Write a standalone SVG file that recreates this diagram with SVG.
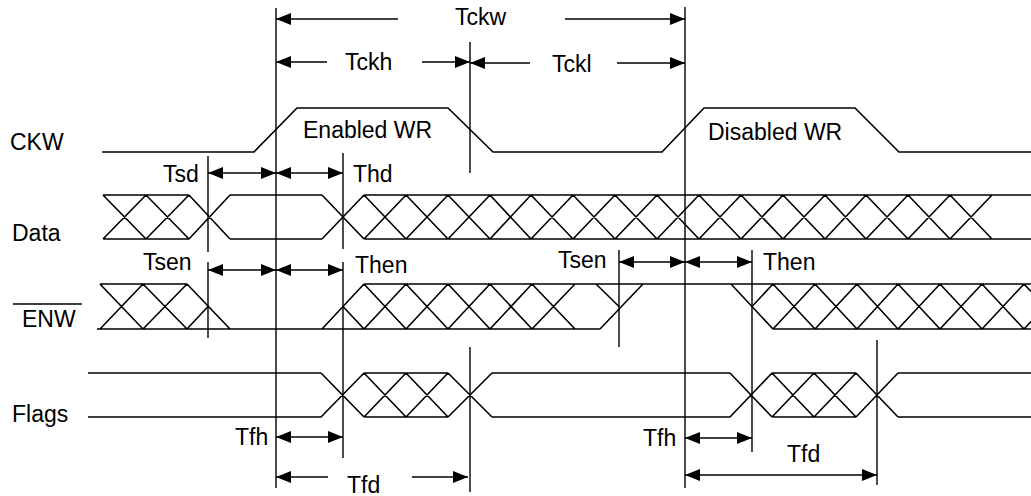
<svg xmlns="http://www.w3.org/2000/svg" width="1031" height="496" viewBox="0 0 1031 496">
<style>
text{font-family:"Liberation Sans",Arial,sans-serif;font-size:23px;fill:#000}
.sig{fill:none;stroke:#000;stroke-width:1.6;stroke-linejoin:miter}
.ref{fill:none;stroke:#000;stroke-width:1.4}
.dim{fill:none;stroke:#000;stroke-width:1.5}
.both{marker-start:url(#ah);marker-end:url(#ah)}
.end{marker-end:url(#ah)}
.start{marker-start:url(#ah)}
</style>
<defs>
<marker id="ah" markerUnits="userSpaceOnUse" markerWidth="16" markerHeight="12" refX="15" refY="6" orient="auto-start-reverse">
<path d="M0,0 L15,6 L0,12 z" fill="#000"/>
</marker>
</defs>
<rect width="1031" height="496" fill="#fff"/>

<g id="labels">
<text x="10" y="150">CKW</text>
<text x="12" y="241">Data</text>
<line x1="13" y1="304" x2="82" y2="304" stroke="#000" stroke-width="1.4"/>
<text x="22" y="327">ENW</text>
<text x="12" y="422">Flags</text>
</g>

<g id="ckw">
<polyline class="sig" points="102,152 254,152 297,108 448,108 493,152 662,152 704,108 855,108 899,152 1031,152"/>
<text x="303" y="138">Enabled WR</text>
<text x="708" y="140">Disabled WR</text>
</g>

<g id="data">
<path class="sig" d="M103,195 H189 M103,239 H189
M103,195 L146,239 M103,239 L146,195 M146,195 L189,239 M146,239 L189,195
M189,195 L230,239 M189,239 L230,195
M230,195 H322 M230,239 H322
M322,195 L364,239 M322,239 L364,195
M364,195 H1031 M364,239 H1031
M364,195 L406,239 M364,239 L406,195
M406,195 L448,239 M406,239 L448,195
M448,195 L490,239 M448,239 L490,195
M490,195 L531,239 M490,239 L531,195
M531,195 L573,239 M531,239 L573,195
M573,195 L615,239 M573,239 L615,195
M615,195 L657,239 M615,239 L657,195
M657,195 L699,239 M657,239 L699,195
M699,195 L741,239 M699,239 L741,195
M741,195 L783,239 M741,239 L783,195
M783,195 L825,239 M783,239 L825,195
M825,195 L866,239 M825,239 L866,195
M866,195 L908,239 M866,239 L908,195
M908,195 L950,239 M908,239 L950,195
M950,195 L992,239 M950,239 L992,195"/>
</g>

<g id="enw">
<path class="sig" d="M100,284 H187 M97,329 H600
M100,284 L143,329 M100,329 L143,284 M143,284 L187,329 M143,329 L187,284
M187,284 L230,329 M187,329 L208,306.5
M322,329 L364,284 M343,306.5 L364,329
M364,284 H1031
M364,284 L406,329 M364,329 L406,284
M406,284 L448,329 M406,329 L448,284
M448,284 L490,329 M448,329 L490,284
M490,284 L532,329 M490,329 L532,284
M532,284 L575,329 M532,329 L575,284
M596,284 L619,306.5 M600,329 L643,284
M731,284 L773,329 M752,306.5 L773,284
M773,329 H1031
M773,284 L815,329 M773,329 L815,284
M815,284 L857,329 M815,329 L857,284
M857,284 L898,329 M857,329 L898,284
M898,284 L940,329 M898,329 L940,284
M940,284 L982,329 M940,329 L982,284
M982,284 L1024,329 M982,329 L1024,284
M1024,284 L1031,291.5 M1024,329 L1031,321.5"/>
</g>

<g id="flags">
<path class="sig" d="M88,373 H321 M88,417 H321
M321,373 L364,417 M321,417 L364,373
M364,373 H448 M364,417 H448
M364,373 L406,417 M364,417 L406,373
M406,373 L448,417 M406,417 L448,373
M448,373 L492,417 M448,417 L492,373
M492,373 H730 M492,417 H730
M730,373 L772,417 M730,417 L772,373
M772,373 H856 M772,417 H856
M772,373 L814,417 M772,417 L814,373
M814,373 L856,417 M814,417 L856,373
M856,373 L898,417 M856,417 L898,373
M898,373 H1031 M898,417 H1031"/>
</g>

<g id="connectors">
<line class="ref" x1="276" y1="8" x2="276" y2="488"/>
<line class="ref" x1="685" y1="7" x2="685" y2="488"/>
<line class="ref" x1="470" y1="42" x2="470" y2="173"/>
<line class="ref" x1="470" y1="347" x2="470" y2="492"/>
<line class="ref" x1="208" y1="156" x2="208" y2="252"/>
<line class="ref" x1="208" y1="262" x2="208" y2="338"/>
<line class="ref" x1="343" y1="153" x2="343" y2="249"/>
<line class="ref" x1="343" y1="262" x2="343" y2="458"/>
<line class="ref" x1="619" y1="250" x2="619" y2="347"/>
<line class="ref" x1="752" y1="250" x2="752" y2="452"/>
<line class="ref" x1="877" y1="340" x2="877" y2="485"/>

<line class="dim start" x1="276" y1="19" x2="398" y2="19"/>
<line class="dim end" x1="565" y1="19" x2="685" y2="19"/>
<line class="dim start" x1="276" y1="62" x2="327" y2="62"/>
<line class="dim end" x1="422" y1="62" x2="470" y2="62"/>
<line class="dim start" x1="470" y1="63" x2="530" y2="63"/>
<line class="dim end" x1="617" y1="63" x2="685" y2="63"/>

<line class="dim both" x1="208" y1="173" x2="276" y2="173"/>
<line class="dim both" x1="276" y1="173" x2="343" y2="173"/>
<line class="dim both" x1="208" y1="270" x2="276" y2="270"/>
<line class="dim both" x1="276" y1="270" x2="343" y2="270"/>
<line class="dim both" x1="619" y1="262" x2="685" y2="262"/>
<line class="dim both" x1="685" y1="262" x2="752" y2="262"/>

<line class="dim both" x1="276" y1="437" x2="343" y2="437"/>
<line class="dim start" x1="276" y1="477" x2="328" y2="477"/>
<line class="dim end" x1="412" y1="477" x2="468" y2="477"/>
<line class="dim both" x1="685" y1="438" x2="752" y2="438"/>
<line class="dim both" x1="685" y1="475" x2="877" y2="475"/>

<text x="455" y="25">Tckw</text>
<text x="345" y="70">Tckh</text>
<text x="552" y="72">Tckl</text>
<text x="163" y="182">Tsd</text>
<text x="353" y="182">Thd</text>
<text x="143" y="270">Tsen</text>
<text x="355" y="273">Then</text>
<text x="558" y="268">Tsen</text>
<text x="763" y="270">Then</text>
<text x="235" y="445">Tfh</text>
<text x="347" y="493">Tfd</text>
<text x="643" y="446">Tfh</text>
<text x="787" y="462">Tfd</text>
</g>
</svg>
